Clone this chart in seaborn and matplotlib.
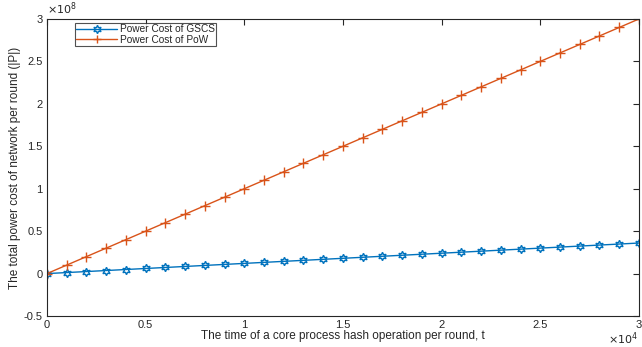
import numpy as np
import pandas as pd
import seaborn as sns
import matplotlib
matplotlib.use("Agg")
import matplotlib.pyplot as plt
from matplotlib.ticker import FuncFormatter, MultipleLocator

# hash operation time per round (t)
t_values = [0, 1000, 2000, 3000, 4000, 5000, 6000, 7000, 8000, 9000, 10000,
            11000, 12000, 13000, 14000, 15000, 16000, 17000, 18000, 19000, 20000,
            21000, 22000, 23000, 24000, 25000, 26000, 27000, 28000, 29000, 30000]

# total power cost per round
gscs_cost = [0.0e6, 1.2e6, 2.4e6, 3.6e6, 4.8e6, 6.0e6, 7.2e6, 8.4e6, 9.6e6, 10.8e6, 12.0e6,
             13.2e6, 14.4e6, 15.6e6, 16.8e6, 18.0e6, 19.2e6, 20.4e6, 21.6e6, 22.8e6, 24.0e6,
             25.2e6, 26.4e6, 27.6e6, 28.8e6, 30.0e6, 31.2e6, 32.4e6, 33.6e6, 34.8e6, 36.0e6]
pow_cost = [0.0e7, 1.0e7, 2.0e7, 3.0e7, 4.0e7, 5.0e7, 6.0e7, 7.0e7, 8.0e7, 9.0e7, 10.0e7,
            11.0e7, 12.0e7, 13.0e7, 14.0e7, 15.0e7, 16.0e7, 17.0e7, 18.0e7, 19.0e7, 20.0e7,
            21.0e7, 22.0e7, 23.0e7, 24.0e7, 25.0e7, 26.0e7, 27.0e7, 28.0e7, 29.0e7, 30.0e7]

series_names = ["Power Cost of GSCS", "Power Cost of PoW"]

sns.set_style("white")
plt.rcParams["font.family"] = ["Liberation Sans", "DejaVu Sans"]

fig = plt.figure(figsize=(6.42, 3.47), dpi=100)
ax = fig.add_axes([0.0732, 0.0893, 0.922, 0.856])

sns.lineplot(x=t_values, y=gscs_cost, ax=ax, color="#0072BD", label=series_names[0],
             linewidth=1.0, marker=(6, 1, 0), markersize=6, markeredgewidth=1.0,
             markerfacecolor="none", markeredgecolor="#0072BD")
sns.lineplot(x=t_values, y=pow_cost, ax=ax, color="#D95319", label=series_names[1],
             linewidth=1.0, marker="+", markersize=7, markeredgewidth=1.0,
             markeredgecolor="#D95319")

ax.set_xlim(0, 30000)
ax.set_ylim(-0.5e8, 3e8)
ax.xaxis.set_major_locator(MultipleLocator(5000))
ax.yaxis.set_major_locator(MultipleLocator(0.5e8))
ax.xaxis.set_major_formatter(FuncFormatter(lambda v, p: f"{v / 1e4:g}"))
ax.yaxis.set_major_formatter(FuncFormatter(lambda v, p: f"{v / 1e8:g}"))

ax.tick_params(direction="in", length=4, width=0.8, colors="#262626",
               labelsize=8, top=True, right=True, pad=3)
for s in ax.spines.values():
    s.set_color("#262626")
    s.set_linewidth(0.8)

ax.set_xlabel("The time of a core process hash operation per round, t",
              fontsize=8.5, color="#262626", labelpad=0)
ax.set_ylabel("The total power cost of network per round (|P|)",
              fontsize=8.5, color="#262626", labelpad=2)

ax.text(0.0, 1.008, r"$\times10^{8}$", transform=ax.transAxes,
        fontsize=8, color="#262626", ha="left", va="bottom")
ax.text(0.998, -0.05, r"$\times10^{4}$", transform=ax.transAxes,
        fontsize=8, color="#262626", ha="right", va="top")

leg = ax.legend(loc="upper left", bbox_to_anchor=(0.047, 0.987), fontsize=7.3,
                frameon=True, fancybox=False, edgecolor="#262626",
                borderpad=0.15, labelspacing=0.05, handlelength=4.0,
                handletextpad=0.3, borderaxespad=0)
leg.get_frame().set_linewidth(0.8)
for h in leg.legend_handles:
    h.set_markersize(6)

fig.savefig("out.png", dpi=100, facecolor="white")
